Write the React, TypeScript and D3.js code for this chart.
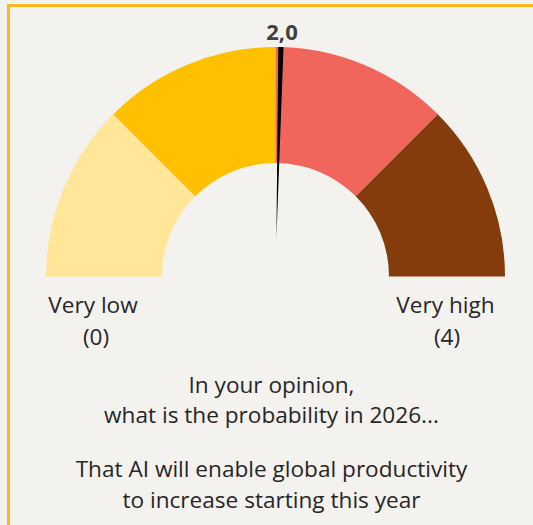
import React from "react";
import * as d3 from "d3";

const bands = [0, 1, 2, 3, 4];
const bandColors = ["#FFE699", "#FFC000", "#F0665C", "#843C0C"];
const value = 2.03;
const valueLabel = "2,0";
const minLabel = ["Very low", "(0)"];
const maxLabel = ["Very high", "(4)"];
const questionLines = ["In your opinion,", "what is the probability in 2026..."];
const statementLines = ["That AI will enable global productivity", "to increase starting this year"];

export default function App() {
  const W = 533, H = 525;
  const cx = 275.5, cy = 276.5;
  const rOuter = 229.5, rInner = 113.5;
  const angle = d3.scaleLinear().domain([0, 4]).range([-Math.PI / 2, Math.PI / 2]);
  const arc = d3.arc<any>().innerRadius(rInner).outerRadius(rOuter);
  const segs = bandColors.map((c, i) => ({
    color: c,
    path: arc({ startAngle: angle(bands[i]), endAngle: angle(bands[i + 1]) }) as string,
  }));
  const a = angle(value);
  const pt = (r: number, ang: number) => [cx + r * Math.sin(ang), cy - r * Math.cos(ang)];
  const tip = pt(37, a);
  const baseC = pt(rOuter, a);
  const hw = 2.6;
  const perp = [Math.cos(a), Math.sin(a)];
  const b1 = [baseC[0] - perp[0] * hw, baseC[1] - perp[1] * hw];
  const b2 = [baseC[0] + perp[0] * hw, baseC[1] + perp[1] * hw];
  const needle = `M${b1[0]},${b1[1]}L${b2[0]},${b2[1]}L${tip[0]},${tip[1]}Z`;
  const font = "'Open Sans', 'Noto Sans', sans-serif";
  const fs = 22.6;
  return (
    <div style={{ position: "fixed", left: 0, top: 0, width: W, height: H, background: "#F3F2EE" }}>
      <svg width={W} height={H} style={{ display: "block" }}>
        <rect x={0} y={0} width={W} height={H} fill="#F3F2EE" />
        <rect x={8.5} y={5.5} width={W + 20} height={H + 20} fill="none" stroke="#FFB81C" strokeWidth={3} />
        {segs.map((s, i) => (
          <path key={i} d={s.path} fill={s.color} transform={`translate(${cx},${cy})`} />
        ))}
        <path d={needle} fill="#000" />
        <text x={282} y={40} textAnchor="middle" fontFamily={font} fontWeight={700} fontSize={22} fill="#404040">
          {valueLabel}
        </text>
        <text x={93} y={313} textAnchor="middle" fontFamily={font} fontSize={fs} fill="#262626">{minLabel[0]}</text>
        <text x={96} y={345} textAnchor="middle" fontFamily={font} fontSize={fs} fill="#262626">{minLabel[1]}</text>
        <text x={445.5} y={313} textAnchor="middle" fontFamily={font} fontSize={fs} fill="#262626">{maxLabel[0]}</text>
        <text x={447} y={345} textAnchor="middle" fontFamily={font} fontSize={fs} fill="#262626">{maxLabel[1]}</text>
        {questionLines.map((t, i) => (
          <text key={t} x={271.5} y={393 + i * 30} textAnchor="middle" fontFamily={font} fontSize={fs} fill="#262626">{t}</text>
        ))}
        {statementLines.map((t, i) => (
          <text key={t} x={271.5} y={477 + i * 31} textAnchor="middle" fontFamily={font} fontSize={fs} fill="#262626">{t}</text>
        ))}
      </svg>
    </div>
  );
}
